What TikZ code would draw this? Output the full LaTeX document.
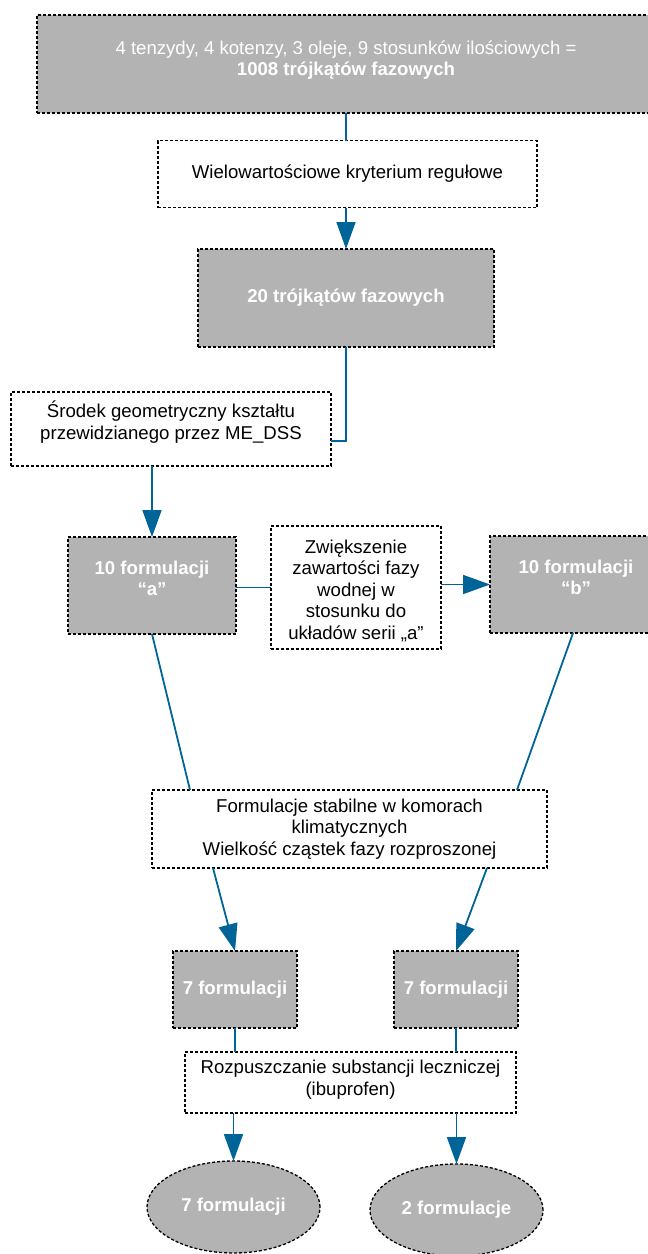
\documentclass[tikz,border=0pt]{standalone}
\usepackage{fontspec}
\setmainfont{Liberation Sans}
\usetikzlibrary{arrows.meta,shapes.geometric,calc}
\definecolor{flowblue}{RGB}{0,100,152}
\definecolor{boxgray}{RGB}{179,179,179}
\newcommand{\flowfont}{\fontsize{18.6}{21.5}\selectfont}
\begin{document}
\begin{tikzpicture}[x=1pt,y=-1pt,
  every node/.style={font=\flowfont, inner sep=0pt, outer sep=0pt},
  plainbox/.style={draw=black, line width=1.3pt, dash pattern=on 3pt off 2pt,
                   fill=white, align=center, text=black},
  shadedbox/.style={plainbox, fill=boxgray, text=white, font=\flowfont\bfseries},
  shadedtext/.style={text=white, align=center, font=\flowfont\bfseries},
  plaintext/.style={text=black, align=center, font=\flowfont},
  oval/.style={shadedbox, ellipse, minimum width=173pt, minimum height=92pt},
  link/.style={draw=flowblue, line width=1.8pt},
  arr/.style={link, -{Triangle[width=19pt,length=27pt]}},
]
\useasboundingbox[fill=white] (0,0) rectangle (648,1254);

% boxes
\node[shadedbox, minimum width=618pt, minimum height=98pt,
      label={[text=white, align=center, font=\flowfont, yshift=4pt]center:{4 tenzydy, 4 kotenzy, 3 oleje, 9 stosunków ilościowych =\\\textbf{1008 trójkątów fazowych}}}]
      (top) at (346,64) {};
\node[plainbox, minimum width=379pt, minimum height=67pt] (crit) at (347.5,174)
      {Wielowartościowe kryterium regułowe};
\node[shadedbox, minimum width=296pt, minimum height=98pt] (tri20) at (346,298)
      {20 trójkątów fazowych};
\node[plainbox, minimum width=320pt, minimum height=74pt,
      label={[plaintext, yshift=7pt]center:{Środek geometryczny kształtu\\przewidzianego przez ME\_DSS}}]
      (srodek) at (171,429) {};
\node[shadedbox, minimum width=168pt, minimum height=97pt,
      label={[shadedtext, yshift=7pt]center:{10 formulacji\\“a”}}]
      (fa) at (152,585.5) {};
\node[plainbox, minimum width=170pt, minimum height=123pt,
      label={[plaintext, yshift=-3pt]center:{Zwiększenie\\zawartości fazy\\wodnej w\\stosunku do\\układów serii „a”}}]
      (zw) at (356,587.5) {};
\node[shadedbox, minimum width=172pt, minimum height=97pt,
      label={[shadedtext, yshift=7pt]center:{10 formulacji\\“b”}}]
      (fb) at (576,584.5) {};
\node[plainbox, minimum width=395pt, minimum height=78pt] (stab) at (349.5,829)
      {Formulacje stabilne w komorach\\klimatycznych\\Wielkość cząstek fazy rozproszonej};
\node[shadedbox, minimum width=124pt, minimum height=77pt] (s7a) at (235,989.5) {7 formulacji};
\node[shadedbox, minimum width=124pt, minimum height=77pt] (s7b) at (456,989.5) {7 formulacji};
\node[plainbox, minimum width=331pt, minimum height=61pt,
      label={[plaintext, yshift=3pt]center:{Rozpuszczanie substancji leczniczej\\(ibuprofen)}}]
      (roz) at (350.5,1082.5) {};
\node[oval] (ea) at (233.5,1207) {7 formulacji};
\node[oval] (eb) at (456.5,1210) {2 formulacje};

% connectors
\draw[link] (top.south) -- (top.south |- crit.north);
\draw[arr] (tri20.north |- crit.south) -- (tri20.north);
\draw[link] (tri20.south) |- ([yshift=-12pt]srodek.east);
\draw[arr] (fa.north |- srodek.south) -- (fa.north);
\draw[link] ([yshift=-2pt]fa.east) -- ([yshift=-2pt]fa.east -| zw.west);
\draw[arr] (fb.west -| zw.east) -- (fb.west);
\draw[link] (fa.south) -- ([xshift=38pt]stab.north west);
\draw[link] ([xshift=-3pt]fb.south) -- ([xshift=-30pt]stab.north east);
\draw[arr] ([xshift=61pt]stab.south west) -- (s7a.north);
\draw[arr] ([xshift=-60pt]stab.south east) -- (s7b.north);
\draw[link] (s7a.south) -- (s7a.south |- roz.north);
\draw[link] (s7b.south) -- (s7b.south |- roz.north);
\draw[arr] (ea.north |- roz.south) -- (ea.north);
\draw[arr] (eb.north |- roz.south) -- (eb.north);
\end{tikzpicture}
\end{document}
